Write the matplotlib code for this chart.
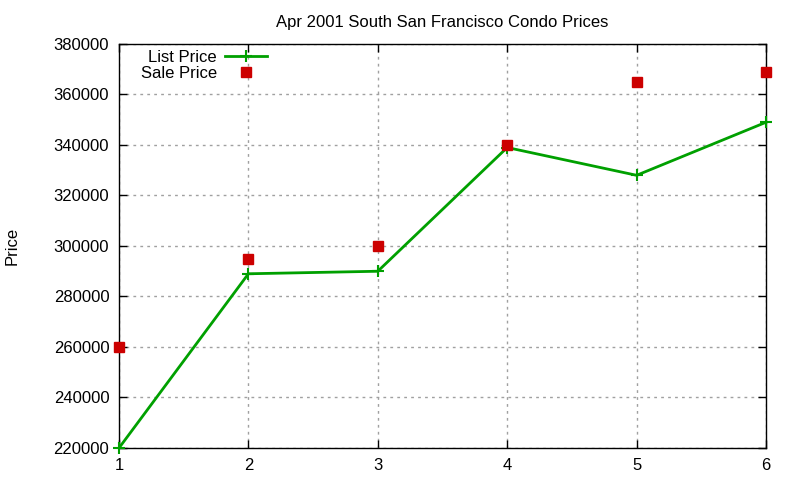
import matplotlib
matplotlib.use("Agg")
import matplotlib.pyplot as plt
from matplotlib.ticker import FixedLocator

x = [1, 2, 3, 4, 5, 6]
list_price = [220000, 289000, 290000, 339000, 328000, 349000]
sale_price = [260000, 295000, 300000, 340000, 365000, 369000]
yticks = list(range(220000, 380001, 20000))

plt.rcParams['font.family'] = ['Liberation Sans', 'DejaVu Sans']
FS = 12
fig = plt.figure(figsize=(8, 4.8), dpi=100)
ax = fig.add_axes([119/800, 1-448/480, (766-119)/800, (448-44)/480])

ax.plot(x, list_price, color='#00a000', lw=2, marker='+', ms=8, mew=1.5,
        label='List Price', clip_on=False, zorder=3)
ax.plot(x, sale_price, ls='none', marker='s', color='#cc0000', ms=6.5,
        label='Sale Price', clip_on=False, zorder=3)

ax.set_xlim(1, 6)
ax.set_ylim(220000, 380000)
ax.xaxis.set_major_locator(FixedLocator(x))
ax.yaxis.set_major_locator(FixedLocator(yticks))
ax.set_yticklabels([str(v) for v in yticks])
ax.grid(True, color='#a0a0a0', ls=(0, (2, 3)), lw=1)
ax.tick_params(direction='in', length=6, labelsize=FS, top=True, right=True, width=1)
ax.tick_params(axis='x', pad=7)
ax.tick_params(axis='y', pad=7)
for s in ax.spines.values():
    s.set_linewidth(1)
ax.set_title('Apr 2001 South San Francisco Condo Prices', fontsize=FS, pad=12)
fig.text(12/800, 1-246/480, 'Price', rotation=90, ha='center', va='center', fontsize=FS)

leg = ax.legend(loc='upper right', bbox_to_anchor=(267/800, 1-50/480),
                bbox_transform=fig.transFigure, frameon=False,
                markerfirst=False, fontsize=FS, handlelength=2.5,
                borderaxespad=0, borderpad=0, labelspacing=0.05, handletextpad=0.5)
for t in leg.get_texts():
    t.set_ha('right')
fig.savefig('out.png')
